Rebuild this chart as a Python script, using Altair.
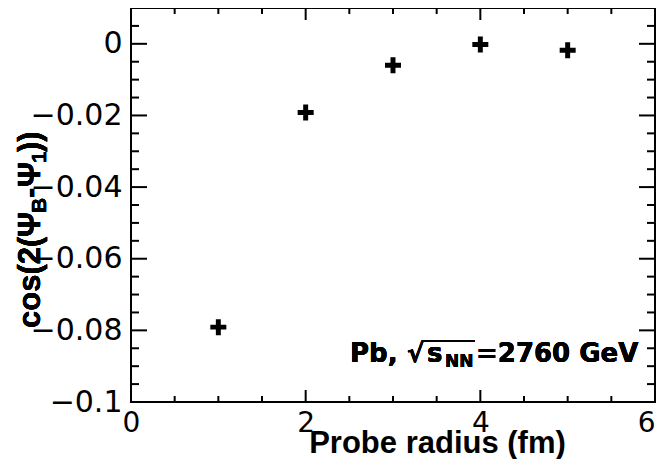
import altair as alt
import pandas as pd

# ---- data ----
radius = [1, 2, 3, 4, 5]
cos_val = [-0.0791, -0.0192, -0.0060, -0.0002, -0.0018]

x_major = [0, 2, 4, 6]
x_minor = [0.5, 1, 1.5, 2.5, 3, 3.5, 4.5, 5, 5.5]
y_major = [0, -0.02, -0.04, -0.06, -0.08, -0.1]
y_minor = [0.005, -0.005, -0.01, -0.015, -0.025, -0.03, -0.035, -0.045, -0.05,
           -0.055, -0.065, -0.07, -0.075, -0.085, -0.09, -0.095]

W, H = 524, 394
PLUS = "M-1,-0.31H-0.31V-1H0.31V-0.31H1V0.31H0.31V1H-0.31V0.31H-1Z"

df = pd.DataFrame({"r": radius, "c": cos_val})
xs = alt.Scale(domain=[0, 6], nice=False, zero=False)
ys = alt.Scale(domain=[-0.1, 0.01], nice=False, zero=False)

LABEL_EXPR = "replace(format(datum.value, '~g'), '-', '\u2212')"

# points, tick labels and the x title
pts = alt.Chart(df).mark_point(shape=PLUS, size=256, filled=True, color="black",
                               opacity=1, strokeWidth=0).encode(
    x=alt.X("r:Q", scale=xs, axis=alt.Axis(
        orient="bottom", values=x_major, labelExpr=LABEL_EXPR, ticks=False, tickSize=0,
        domain=False, grid=False, labelFont="DejaVu Sans", labelFontSize=28,
        labelColor="black", labelPadding=7, labelFlush=False, labelOverlap=False,
        labelAlign={"condition": {"test": "datum.value >= 6", "value": "right"},
                    "value": "center"},
        title="Probe radius (fm)", titleFont="Liberation Sans", titleFontSize=31,
        titleFontWeight="bold", titleColor="black", titleX=306, titleY=50,
        titleAlign="center", titleBaseline="alphabetic", titleAngle=0)),
    y=alt.Y("c:Q", scale=ys, axis=alt.Axis(
        orient="left", values=y_major, labelExpr=LABEL_EXPR, ticks=False, tickSize=0,
        domain=False, grid=False, labelFont="DejaVu Sans", labelFontSize=30,
        labelColor="black", labelPadding=9, labelFlush=False, labelOverlap=False,
        title=None)),
)


# inward ticks drawn on all four sides through the shared scales
def xticks(vals, size):
    d = pd.DataFrame({"v": vals})
    bottom = alt.Chart(d).mark_rule(color="black", strokeWidth=2).encode(
        x=alt.X("v:Q", scale=xs), y=alt.value(H), y2=alt.value(H - size))
    top = alt.Chart(d).mark_rule(color="black", strokeWidth=2).encode(
        x=alt.X("v:Q", scale=xs), y=alt.value(0), y2=alt.value(size))
    return [bottom, top]


def yticks(vals, size):
    d = pd.DataFrame({"v": vals})
    left = alt.Chart(d).mark_rule(color="black", strokeWidth=2).encode(
        y=alt.Y("v:Q", scale=ys), x=alt.value(0), x2=alt.value(size))
    right = alt.Chart(d).mark_rule(color="black", strokeWidth=2).encode(
        y=alt.Y("v:Q", scale=ys), x=alt.value(W), x2=alt.value(W - size))
    return [left, right]


ticks = xticks(x_major, 12) + xticks(x_minor, 6) + yticks(y_major, 16) + yticks(y_minor, 8)


# ---- y title pieces: cos(2(Ψ_B-Ψ_1)) ----
def ytext(txt, x, y, size):
    return alt.Chart(df).mark_text(
        text=txt, angle=270, align="left", baseline="alphabetic",
        font="Liberation Sans", fontWeight="bold", fontSize=size, color="black"
    ).encode(x=alt.value(x), y=alt.value(y))


ytitle = [
    ytext("cos(2(", -91, 320, 31),
    ytext("Ψ", -91, 229, 31),
    ytext("B", -85, 205, 21),
    ytext("-", -91, 190, 31),
    ytext("Ψ", -91, 179, 31),
    ytext("1", -85, 155, 21),
    ytext("))", -91, 144, 31),
]


# ---- annotation: Pb, √s_NN=2760 GeV ----
def atext(txt, x, y, size):
    return alt.Chart(df).mark_text(
        text=txt, align="left", baseline="alphabetic",
        font="DejaVu Sans", fontWeight="bold", fontSize=size, color="black"
    ).encode(x=alt.value(x), y=alt.value(y))


annot = [
    atext("Pb,", 219, 354, 26),
    atext("√", 276, 354, 26),
    atext("s", 296, 354, 26),
    atext("NN", 314, 359, 17),
    atext("=2760 GeV", 345, 354, 26),
]
overline = alt.Chart(df).mark_rule(color="black", strokeWidth=1.5).encode(
    x=alt.value(292), x2=alt.value(344), y=alt.value(333))

chart = alt.layer(pts, *ticks, *ytitle, *annot, overline).properties(
    width=W, height=H,
    padding={"left": 123, "top": 0, "right": 1, "bottom": 57},
    autosize=alt.AutoSizeParams(type="none"),
    background="white",
).configure_view(stroke="black", strokeWidth=2)

chart.save("out.html", embed_options={"renderer": "svg", "actions": False})
